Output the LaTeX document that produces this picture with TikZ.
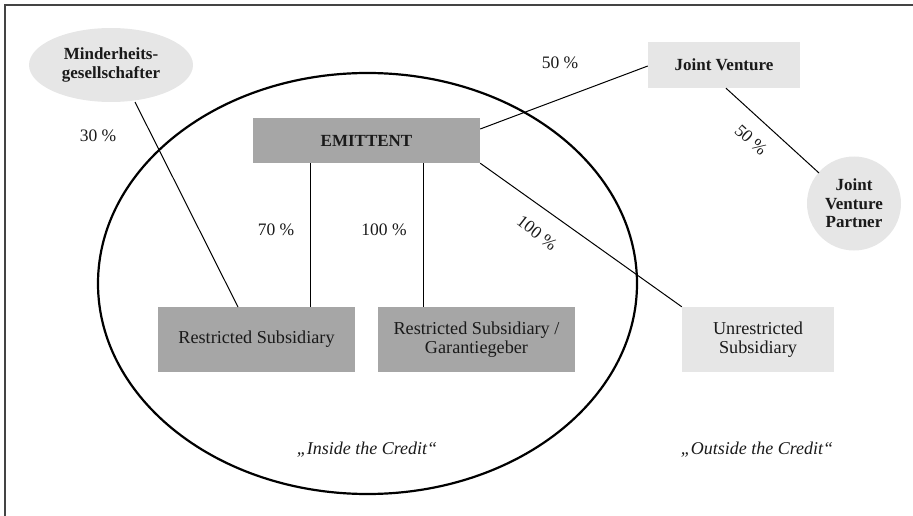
\documentclass[tikz,border=0pt]{standalone}
\usepackage{fontspec}
\setmainfont{Liberation Serif}
\usetikzlibrary{shapes.geometric}
\definecolor{darkbox}{HTML}{A6A6A6}
\definecolor{lightbox}{HTML}{E6E6E6}
\definecolor{framecol}{HTML}{444444}
\definecolor{txt}{HTML}{1A1A1A}
\tikzset{
  darkrect/.style={fill=darkbox, inner sep=0pt, text=txt, align=center, font=\fontsize{18.2}{19}\selectfont},
  lightrect/.style={fill=lightbox, inner sep=0pt, text=txt, align=center, font=\fontsize{18.2}{19}\selectfont},
  boldlbl/.style={font=\fontsize{17}{18.5}\selectfont\bfseries, text=txt, align=center},
  pct/.style={font=\fontsize{17.5}{19}\selectfont, text=txt},
  conn/.style={draw=black, line width=1pt},
  quote/.style={font=\fontsize{18}{19}\selectfont\itshape, text=txt}
}
\begin{document}
\begin{tikzpicture}[x=1pt,y=-1pt]
\useasboundingbox (0,0) rectangle (913,516);
% frame
\draw[framecol, line width=1.6pt] (5,516) -- (5,5) -- (913,5);
% big ellipse
\draw[black, line width=2.2pt] (367.5,283.5) ellipse [x radius=269.5, y radius=210.5];
% nodes
\node[lightrect, boldlbl, ellipse, minimum width=164pt, minimum height=74pt] (mg) at (111,65) {Minderheits-\\gesellschafter};
\node[darkrect, boldlbl, minimum width=227pt, minimum height=45pt] (em) at (366.5,140.5) {EMITTENT};
\node[lightrect, boldlbl, minimum width=152pt, minimum height=46pt] (jv) at (724,65) {Joint Venture};
\node[lightrect, boldlbl, circle, minimum size=94pt] (jvp) at (854,203.5) {Joint\\Venture\\Partner};
\node[darkrect, minimum width=197pt, minimum height=65pt] (rs) at (256.5,339.5) {Restricted Subsidiary};
\node[darkrect, minimum width=197pt, minimum height=65pt] (rg) at (476.5,339.5) {Restricted Subsidiary /\\Garantiegeber};
\node[lightrect, minimum width=152pt, minimum height=65pt] (us) at (758,339.5) {Unrestricted\\Subsidiary};
% connector end points on node borders
\coordinate (mgb) at (135,102);
\coordinate (rst) at (238,307);
\coordinate (em70) at (310,163);
\coordinate (em100) at (423,163);
\coordinate (emjv) at (480,129);
\coordinate (jvl) at (648,66);
\coordinate (jvb) at (726,88);
\coordinate (jvpt) at (819,173);
% connectors
\draw[conn] (mgb) -- (rst);
\draw[conn] (em.south -| em70) -- (rs.north -| em70);
\draw[conn] (em.south -| em100) -- (rg.north -| em100);
\draw[conn] (em.east |- emjv) -- (jv.west |- jvl);
\draw[conn] (em.south east) -- (us.north west);
\draw[conn] (jv.south -| jvb) -- (jvpt);
% labels
\node[pct] (p30) at (98,136) {30 \%};
\node[pct] (p70) at (276,230) {70 \%};
\node[pct] (p100) at (384,230) {100 \%};
\node[pct] (p50a) at (560,63) {50 \%};
\node[pct, rotate=-42] (p50b) at (751,140) {50 \%};
\node[pct, rotate=-38] (p100b) at (537,233) {100 \%};
\node[quote] (ins) at (367,450) {„Inside the Credit“};
\node[quote] (outs) at (757,450) {„Outside the Credit“};
\end{tikzpicture}
\end{document}
